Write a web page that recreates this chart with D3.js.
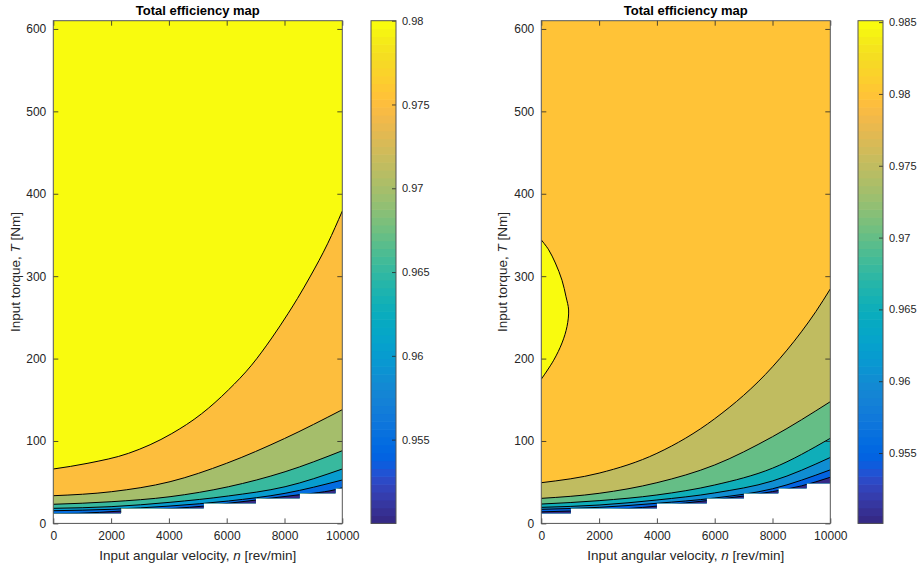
<!DOCTYPE html>
<html><head><meta charset="utf-8">
<script src="https://cdn.jsdelivr.net/npm/d3@7/dist/d3.min.js"></script>
<style>
body{margin:0;background:#fff}
text{font-family:"Liberation Sans",Arial,Helvetica,sans-serif;fill:#262626}
</style>
</head><body>
<svg id="chart" width="920" height="570"></svg>
<script>
// ---------------- data ----------------
const speedTicks  = [0, 2000, 4000, 6000, 8000, 10000];
const torqueTicks = [0, 100, 200, 300, 400, 500, 600];
const speedDomain = [0, 10000];
const torqueDomain = [0, 610];
const titles = ["Total efficiency map", "Total efficiency map"];

// left map: contour levels and their lines, points are [n rev/min, T Nm]
const leftLevels = [0.955, 0.96, 0.965, 0.97, 0.975, 0.98];
const leftColorDomain = [0.95, 0.98];
const leftColorTicks = [0.955, 0.96, 0.965, 0.97, 0.975, 0.98];
const left955 = [[0,11.8],[865,12.2],[2345,15.0],[4216,18.3],[5205,21.0],[6055,24.4],[7010,28.3],[7498,30.5],[8525,34.8],[8997,36.6],[9765,41.0],[10000,43.3]];
const left960 = [[0,15.4],[2000,17.1],[4040,21.1],[6060,27.2],[8020,36.5],[10000,52.7]];
const left965 = [[0,18.3],[2000,20.3],[4040,25.6],[6060,33.3],[8020,44.5],[10000,66]];
const left970 = [[0,23.2],[2000,26.3],[4040,32.4],[6060,44.5],[8020,62.7],[10000,88.2]];
const left975 = [[0,33.6],[2020,38.5],[4040,50.6],[6000,73],[8000,103],[10000,138]];
const left980 = [[0,66],[1200,73],[2600,85],[4100,109],[5130,133],[6060,162],[6860,192],[7560,225],[8130,255],[8450,273],[8880,299],[9500,340],[10000,379]];
// lower edge of the defined data (staircase)
const leftStepEdges  = [0, 2345, 5205, 7010, 8525, 9765, 10000];
const leftStepFloors = [12.2, 18.3, 24.4, 30.5, 36.6, 42.7];

// right map
const rightLevels = [0.955, 0.96, 0.965, 0.97, 0.975, 0.98];
const rightLensLevel = 0.985;
const rightColorDomain = [0.9501, 0.9851];
const rightColorTicks = [0.955, 0.96, 0.965, 0.97, 0.975, 0.98, 0.985];
const right955 = [[0,14],[2000,16.3],[3000,18],[4000,21],[5000,24.8],[6000,28.7],[7000,33.2],[8000,38.6],[9000,45.5],[10000,56]];
const right960 = [[0,17.1],[2000,19.5],[4000,24.4],[6000,30.8],[8000,42],[10000,65]];
const right965 = [[0,19.5],[2000,22.3],[4000,28.4],[6000,37],[8000,51.5],[10000,80]];
const right970 = [[0,23.5],[2000,27.6],[4000,34.5],[6000,46.6],[8000,67],[10000,103.3]];
const right975 = [[0,30.4],[2000,36.5],[4000,49.4],[6000,70.9],[8000,105.2],[10000,147.7]];
const right980 = [[0,49.4],[2000,61],[4000,85],[6000,127],[8000,190],[9000,232.5],[9500,257],[10000,284.5]];
const right985 = [[0,344],[255,332],[486,316],[717,295],[856,275],[945,259],[890,239],[717,219],[429,198],[0,175]];
const rightStepEdges  = [0, 1020, 4000, 5725, 7010, 8200, 9180, 10000];
const rightStepFloors = [12.2, 18.3, 24.4, 30.5, 36.6, 42.7, 48.8];

// ---------------- colormap (MATLAB parula, 64 rows) ----------------
const parula = [[0.2081,0.1663,0.5292],[0.2116,0.1898,0.5777],[0.2123,0.2138,0.6270],[0.2081,0.2386,0.6771],[0.1959,0.2645,0.7279],[0.1707,0.2919,0.7792],[0.1253,0.3242,0.8303],[0.0591,0.3598,0.8683],[0.0117,0.3875,0.8820],[0.0060,0.4086,0.8828],[0.0165,0.4266,0.8786],[0.0329,0.4430,0.8720],[0.0498,0.4586,0.8641],[0.0629,0.4737,0.8554],[0.0723,0.4887,0.8467],[0.0779,0.5040,0.8384],[0.0793,0.5200,0.8312],[0.0749,0.5375,0.8263],[0.0641,0.5570,0.8240],[0.0488,0.5772,0.8228],[0.0343,0.5966,0.8199],[0.0265,0.6137,0.8135],[0.0239,0.6287,0.8038],[0.0231,0.6418,0.7913],[0.0228,0.6535,0.7768],[0.0267,0.6642,0.7607],[0.0384,0.6743,0.7436],[0.0590,0.6838,0.7254],[0.0843,0.6928,0.7062],[0.1133,0.7015,0.6859],[0.1453,0.7098,0.6646],[0.1801,0.7177,0.6424],[0.2178,0.7250,0.6193],[0.2586,0.7317,0.5954],[0.3022,0.7376,0.5712],[0.3482,0.7424,0.5473],[0.3953,0.7459,0.5244],[0.4420,0.7481,0.5033],[0.4871,0.7491,0.4840],[0.5300,0.7491,0.4661],[0.5709,0.7485,0.4494],[0.6099,0.7473,0.4337],[0.6473,0.7456,0.4188],[0.6834,0.7435,0.4044],[0.7184,0.7411,0.3905],[0.7525,0.7384,0.3768],[0.7858,0.7356,0.3633],[0.8185,0.7327,0.3498],[0.8507,0.7299,0.3360],[0.8824,0.7274,0.3217],[0.9139,0.7258,0.3063],[0.9450,0.7261,0.2886],[0.9739,0.7314,0.2666],[0.9938,0.7455,0.2403],[0.9990,0.7653,0.2164],[0.9955,0.7861,0.1967],[0.9880,0.8066,0.1794],[0.9789,0.8271,0.1633],[0.9697,0.8481,0.1475],[0.9626,0.8705,0.1309],[0.9589,0.8949,0.1132],[0.9598,0.9218,0.0948],[0.9661,0.9514,0.0755],[0.9763,0.9831,0.0538]];
const rgbOf = c => d3.rgb(c[0]*255, c[1]*255, c[2]*255).formatHex();
function colorOf(v, dom){
  const n = parula.length;
  let i = Math.floor((v - dom[0]) / (dom[1] - dom[0]) * n + 1e-9);
  i = Math.max(0, Math.min(n - 1, i));
  return rgbOf(parula[i]);
}

// ---------------- layout ----------------
const svg = d3.select("#chart");
const plotTop = 20.7, plotBottom = 523.4;
const panels = [
  {x0:53.3, x1:342.3, cbx:371, title:titles[0], levels:leftLevels, colorDomain:leftColorDomain, colorTicks:leftColorTicks,
   curves:[left955,left960,left965,left970,left975,left980], lens:null,
   stepEdges:leftStepEdges, stepFloors:leftStepFloors, ylabX:15},
  {x0:541.3, x1:830.3, cbx:858, title:titles[1], levels:rightLevels, colorDomain:rightColorDomain, colorTicks:rightColorTicks,
   curves:[right955,right960,right965,right970,right975,right980], lens:right985, lensLevel:rightLensLevel,
   stepEdges:rightStepEdges, stepFloors:rightStepFloors, ylabX:502}
];

panels.forEach((p, pi) => {
  const x = d3.scaleLinear(speedDomain, [p.x0, p.x1]);
  const y = d3.scaleLinear(torqueDomain, [plotBottom, plotTop]);
  const g = svg.append("g");

  // clip to the defined-data domain (above the staircase)
  const dom = [[speedDomain[0], torqueDomain[1]], [speedDomain[1], torqueDomain[1]]];
  for (let i = p.stepFloors.length - 1; i >= 0; i--) {
    dom.push([p.stepEdges[i+1], p.stepFloors[i]]);
    dom.push([p.stepEdges[i], p.stepFloors[i]]);
  }
  const clipId = "clip" + pi;
  svg.append("clipPath").attr("id", clipId).append("path")
    .attr("d", d3.line().x(d => x(d[0])).y(d => y(d[1]))(dom) + "Z");

  const fills = g.append("g").attr("clip-path", `url(#${clipId})`);
  const nL = p.levels.length;
  // top band
  fills.append("rect").attr("x", p.x0).attr("y", plotTop)
    .attr("width", p.x1 - p.x0).attr("height", plotBottom - plotTop)
    .attr("fill", colorOf(p.levels[nL-1], p.colorDomain));
  // each band below a contour line, painted from top to bottom
  const area = d3.area().x(d => x(d[0])).y0(y(0)).y1(d => y(d[1])).curve(d3.curveMonotoneX);
  for (let i = nL - 1; i >= 0; i--) {
    const lower = i === 0 ? p.colorDomain[0] : p.levels[i-1];
    fills.append("path").attr("d", area(p.curves[i]))
      .attr("fill", colorOf(lower, p.colorDomain));
  }
  const line = d3.line().x(d => x(d[0])).y(d => y(d[1])).curve(d3.curveMonotoneX);
  const lensLine = d3.line().x(d => x(d[0])).y(d => y(d[1])).curve(d3.curveCatmullRom.alpha(0.5));
  if (p.lens) {
    fills.append("path").attr("d", lensLine(p.lens) + "Z")
      .attr("fill", colorOf(p.lensLevel, p.colorDomain));
  }
  // contour lines
  p.curves.forEach(c => {
    fills.append("path").attr("d", line(c)).attr("fill", "none")
      .attr("stroke", "#000").attr("stroke-width", 1);
  });
  if (p.lens) {
    fills.append("path").attr("d", lensLine(p.lens)).attr("fill", "none")
      .attr("stroke", "#000").attr("stroke-width", 1);
  }

  // axes (ticks inward on all four sides)
  const axCol = "#262626";
  const fmt = d3.format("d");
  const styleAxis = sel => {
    sel.select(".domain").remove();
    sel.selectAll("line").attr("stroke", axCol).attr("stroke-width", 0.8);
    sel.selectAll("text").style("font-size", "12px").attr("fill", axCol);
  };
  g.append("g").attr("transform", `translate(0,${plotBottom})`)
    .call(d3.axisBottom(x).tickValues(speedTicks).tickSizeInner(-5).tickSizeOuter(0).tickPadding(8).tickFormat(fmt))
    .call(styleAxis);
  g.append("g").attr("transform", `translate(0,${plotTop})`)
    .call(d3.axisTop(x).tickValues(speedTicks).tickSizeInner(-5).tickSizeOuter(0).tickFormat(""))
    .call(styleAxis);
  g.append("g").attr("transform", `translate(${p.x0},0)`)
    .call(d3.axisLeft(y).tickValues(torqueTicks).tickSizeInner(-5).tickSizeOuter(0).tickPadding(7).tickFormat(fmt))
    .call(styleAxis);
  g.append("g").attr("transform", `translate(${p.x1},0)`)
    .call(d3.axisRight(y).tickValues(torqueTicks).tickSizeInner(-5).tickSizeOuter(0).tickFormat(""))
    .call(styleAxis);
  g.append("rect").attr("x", p.x0).attr("y", plotTop)
    .attr("width", p.x1 - p.x0).attr("height", plotBottom - plotTop)
    .attr("fill", "none").attr("stroke", "#555").attr("stroke-width", 1);

  // title
  g.append("text").attr("x", (p.x0 + p.x1) / 2).attr("y", 15)
    .attr("text-anchor", "middle").style("font-size", "13px").style("font-weight", "bold")
    .style("fill", "#000").text(p.title);
  // x label
  const xl = g.append("text").attr("x", (p.x0 + p.x1) / 2).attr("y", 560)
    .attr("text-anchor", "middle").style("font-size", "13.5px");
  xl.append("tspan").text("Input angular velocity, ");
  xl.append("tspan").style("font-style", "italic").text("n");
  xl.append("tspan").text(" [rev/min]");
  // y label
  const yl = g.append("text")
    .attr("transform", `translate(${p.ylabX},${(plotTop + plotBottom) / 2}) rotate(-90)`)
    .attr("text-anchor", "middle").attr("dy", "0.35em").style("font-size", "13.5px");
  yl.append("tspan").text("Input torque, ");
  yl.append("tspan").style("font-style", "italic").text("T");
  yl.append("tspan").text(" [Nm]");

  // colorbar
  const cbW = 25;
  const cy = d3.scaleLinear(p.colorDomain, [plotBottom, plotTop]);
  const nC = parula.length;
  const span = p.colorDomain[1] - p.colorDomain[0];
  g.append("g").selectAll("rect").data(parula).join("rect")
    .attr("x", p.cbx).attr("width", cbW)
    .attr("y", (d, i) => cy(p.colorDomain[0] + (i + 1) / nC * span))
    .attr("height", (d, i) => cy(p.colorDomain[0] + i / nC * span) - cy(p.colorDomain[0] + (i + 1) / nC * span) + 0.6)
    .attr("fill", d => rgbOf(d));
  g.append("g").attr("transform", `translate(${p.cbx + cbW},0)`)
    .call(d3.axisRight(cy).tickValues(p.colorTicks).tickSizeInner(-4).tickSizeOuter(0).tickPadding(6).tickFormat(d => String(d)))
    .call(sel => {
      sel.select(".domain").remove();
      sel.selectAll("line").attr("stroke", axCol).attr("stroke-width", 0.8);
      sel.selectAll("text").style("font-size", "11px").attr("fill", axCol);
    });
  g.append("rect").attr("x", p.cbx).attr("y", plotTop).attr("width", cbW)
    .attr("height", plotBottom - plotTop).attr("fill", "none")
    .attr("stroke", "#555").attr("stroke-width", 1);
});
</script>
</body></html>
